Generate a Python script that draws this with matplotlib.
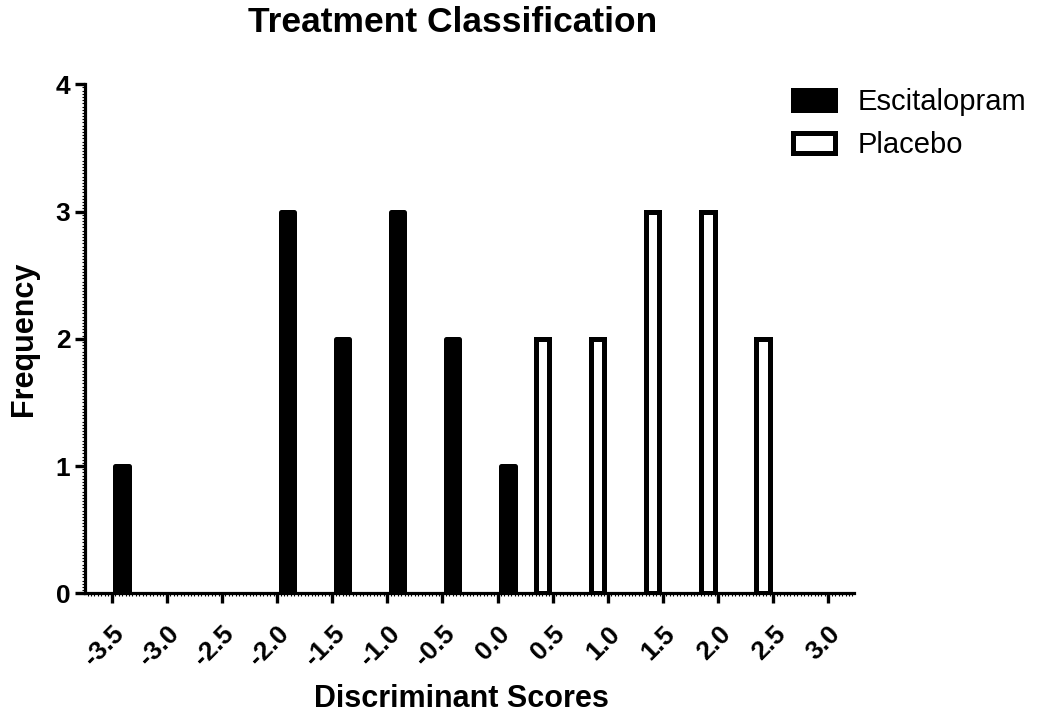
import numpy as np
from matplotlib import pyplot as plt
from matplotlib.ticker import MultipleLocator

# histogram bins (Discriminant Scores) and frequencies per group
bins = [-3.5, -3.0, -2.5, -2.0, -1.5, -1.0, -0.5, 0.0, 0.5, 1.0, 1.5, 2.0, 2.5, 3.0]
escitalopram = [1, 0, 0, 3, 2, 3, 2, 1, 0, 0, 0, 0, 0, 0]
placebo = [0, 0, 0, 0, 0, 0, 0, 0, 2, 2, 3, 3, 2, 0]
tick_labels = ["-3.5", "-3.0", "-2.5", "-2.0", "-1.5", "-1.0", "-0.5",
               "0.0", "0.5", "1.0", "1.5", "2.0", "2.5", "3.0"]

plt.rcParams["font.family"] = ["Liberation Sans", "DejaVu Sans"]

fig = plt.figure(figsize=(10.46, 7.15), dpi=100)
ax = fig.add_axes([0.0813, 0.1702, 0.7352, 0.7119])

x = np.array(bins)
esc = np.array(escitalopram)
pla = np.array(placebo)
off = 0.093
w = 0.1225
lw = 3.6

m = esc > 0
ax.bar(x[m] + off, esc[m], width=w, color="black", edgecolor="black",
       linewidth=lw, joinstyle="round", label="Escitalopram", zorder=3)
m = pla > 0
ax.bar(x[m] - off, pla[m], width=w, color="white", edgecolor="black",
       linewidth=lw, joinstyle="miter", label="Placebo", zorder=3)

ax.set_xlim(-3.742, 3.233)
ax.set_ylim(0, 4)

for s in ["top", "right"]:
    ax.spines[s].set_visible(False)
for s in ["left", "bottom"]:
    ax.spines[s].set_linewidth(2.3)

ax.set_xticks(bins)
ax.set_xticklabels(tick_labels, rotation=45, ha="right", va="top",
                   rotation_mode="anchor", fontsize=19, fontweight="bold")
ax.set_yticks([0, 1, 2, 3, 4])
ax.set_yticklabels(["0", "1", "2", "3", "4"], fontsize=19, fontweight="bold")
ax.xaxis.set_minor_locator(MultipleLocator(0.5 / 16))
ax.yaxis.set_minor_locator(MultipleLocator(0.025))
ax.tick_params(which="major", length=7.5, width=2.4, pad=3)
ax.tick_params(axis="x", which="major", pad=13)
ax.tick_params(which="minor", length=2, width=0.8)

ax.set_xlabel("Discriminant Scores", fontsize=22, fontweight="bold", va="baseline")
ax.xaxis.set_label_coords(0.489, -0.2228)
ax.set_ylabel("Frequency", fontsize=22, fontweight="bold")
ax.yaxis.set_label_coords(-0.06, 0.5)

fig.text(453 / 1046, 1 - 32 / 715, "Treatment Classification", ha="center",
         va="baseline", fontsize=25.5, fontweight="bold")

ax.legend(loc="upper left", bbox_to_anchor=(793 / 1046, 1 - 88 / 715),
          bbox_transform=fig.transFigure, frameon=False, fontsize=21,
          handlelength=1.43, handleheight=0.685, handletextpad=0.8,
          labelspacing=0.51, borderpad=0, borderaxespad=0)

plt.savefig("out.png", dpi=100)
